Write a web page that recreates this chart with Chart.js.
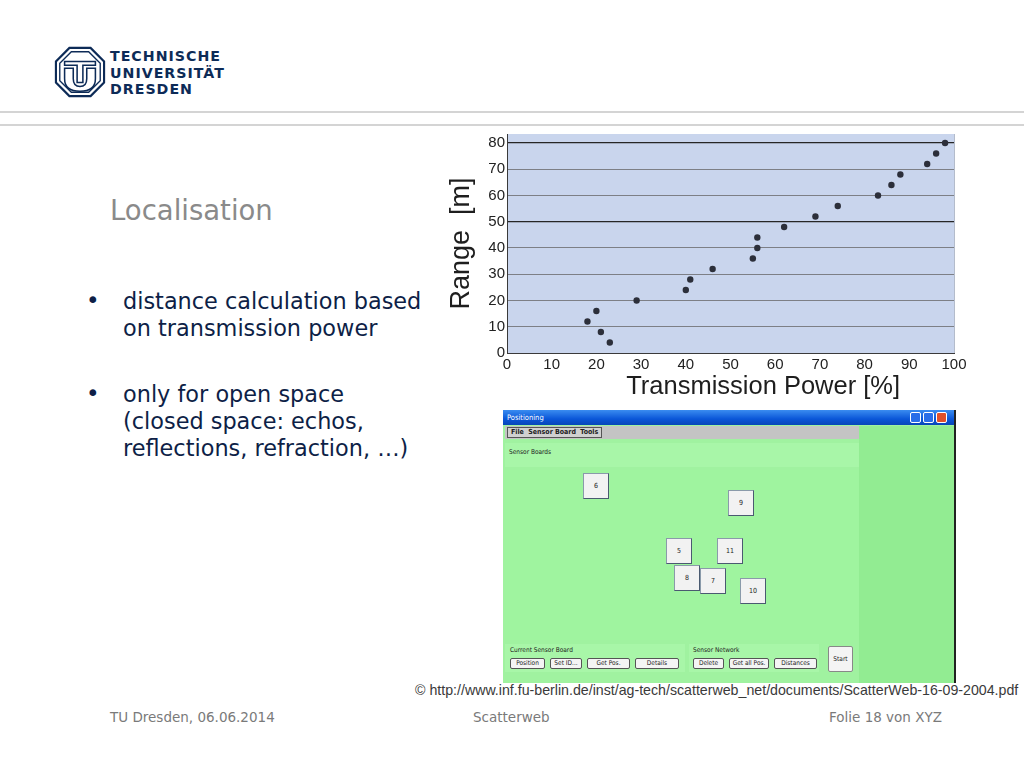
<!DOCTYPE html>
<html>
<head>
<meta charset="utf-8">
<script src="https://cdn.jsdelivr.net/npm/chart.js@4.4.1/dist/chart.umd.min.js"></script>
<style>
  html, body { margin:0; padding:0; background:#fff; }
  body { width:1024px; height:768px; position:relative; overflow:hidden; font-family:"DejaVu Sans", Verdana, sans-serif; }
  .abs { position:absolute; }
  .hline { position:absolute; left:0; width:1024px; height:2px; background:#d4d4d4; }
  .logo-line { position:absolute; left:110px; font-family:"DejaVu Sans",sans-serif; font-weight:bold; font-size:14.2px; letter-spacing:1px; line-height:16px; height:16px; color:#0d2b57; white-space:nowrap; }
  .title { position:absolute; left:110px; top:194px; font-size:27.5px; color:#8a8a8a; }
  .bullet { position:absolute; left:86px; font-size:23px; color:#0e1f47; }
  .btext { position:absolute; left:123px; font-size:22.4px; line-height:27.2px; color:#0e1f47; white-space:nowrap; }
  .footer { position:absolute; top:709px; font-size:13.5px; color:#7a7a7a; }
  .copy { position:absolute; left:415px; top:682px; font-family:"Liberation Sans", Arial, sans-serif; font-size:14.2px; color:#3a3a3a; white-space:nowrap; }
  #chartBox { position:absolute; left:440px; top:123px; width:540px; height:279px; }
  /* GUI screenshot */
  .win { position:absolute; left:503px; top:410px; width:453px; height:273px; background:#a0f2a0; border-right:2px solid #222; box-sizing:border-box; font-family:"DejaVu Sans Condensed","DejaVu Sans",sans-serif; font-size:7px; color:#222; overflow:hidden; }
  .titlebar { position:absolute; left:0; top:0; width:100%; height:15px; background:linear-gradient(#3a8cf0,#0a56d8 60%,#0846b8); color:#fff; font-size:7.5px; line-height:15px; padding-left:4px; box-sizing:border-box; }
  .wbtn { position:absolute; top:2px; width:11px; height:11px; border:1px solid #fff; box-sizing:border-box; border-radius:2px; background:#2a6ee8; }
  .menubar { position:absolute; left:2px; top:16px; width:355px; height:13px; background:#c4c4c4; }
  .menu { position:absolute; left:2px; top:1px; height:11px; padding:0 3px; border:1px solid #555; box-sizing:border-box; background:#d0d0d0; font-size:7px; line-height:9px; font-weight:bold; }
  .panel { position:absolute; background:#a8f6a8; }
  .rightp { position:absolute; left:356px; top:16px; width:95px; height:257px; background:#92ec92; }
  .board { position:absolute; width:26px; height:26px; background:#f2f2f2; border:1px solid #8a9aaa; border-right-color:#4a5a70; border-bottom-color:#4a5a70; box-sizing:border-box; font-size:7px; text-align:center; line-height:24px; }
  .gbtn { position:absolute; top:248px; height:11px; background:#f4f4f4; border:1px solid #555; box-sizing:border-box; border-radius:2px; font-size:6.5px; line-height:9px; text-align:center; }
  .glabel { position:absolute; font-size:6.5px; }
</style>
</head>
<body>

<!-- Logo -->
<svg class="abs" style="left:54px;top:46px" width="52" height="52" viewBox="0 0 54 54">
  <polygon points="16,2 38,2 52,16 52,38 38,52 16,52 2,38 2,16" fill="none" stroke="#0d2b57" stroke-width="2.2"/>
  <polygon points="18,6 36,6 48,18 48,36 36,48 18,48 6,36 6,18" fill="none" stroke="#0d2b57" stroke-width="1.4"/>
  <path d="M11,16 H43 V20 H30 V38 H24 V20 H11 Z" fill="none" stroke="#0d2b57" stroke-width="1.6"/>
  <path d="M11,23 H20 V34 Q20,42 27,42 Q34,42 34,34 V23 H43 V34 Q43,47 27,47 Q11,47 11,34 Z" fill="none" stroke="#0d2b57" stroke-width="1.6"/>
</svg>
<div class="logo-line" style="top:48px">TECHNISCHE</div>
<div class="logo-line" style="top:64.5px">UNIVERSITÄT</div>
<div class="logo-line" style="top:81px">DRESDEN</div>

<div class="hline" style="top:111px"></div>
<div class="hline" style="top:124px"></div>

<div class="title">Localisation</div>

<div class="bullet" style="top:287px">•</div>
<div class="btext" style="top:288px">distance calculation based<br>on transmission power</div>
<div class="bullet" style="top:380px">•</div>
<div class="btext" style="top:381px">only for open space<br>(closed space: echos,<br>reflections, refraction, …)</div>

<div id="chartBox"><canvas id="c"></canvas></div>

<!-- GUI screenshot -->
<div class="win">
  <div class="titlebar">Positioning</div>
  <div class="wbtn" style="left:407px"></div>
  <div class="wbtn" style="left:420px"></div>
  <div class="wbtn" style="left:433px;background:#e0502a"></div>
  <div class="menubar"><div class="menu">File&nbsp; Sensor Board&nbsp; Tools</div></div>
  <div class="rightp"></div>
  <div class="panel" style="left:2px;top:33px;width:354px;height:24px"><div class="glabel" style="left:4px;top:5px">Sensor Boards</div></div>
  <div class="panel" style="left:2px;top:60px;width:354px;height:170px;background:#9ff49f"></div>
  <div class="board" style="left:80px;top:63px">6</div>
  <div class="board" style="left:225px;top:80px">9</div>
  <div class="board" style="left:163px;top:128px">5</div>
  <div class="board" style="left:214px;top:128px">11</div>
  <div class="board" style="left:171px;top:155px">8</div>
  <div class="board" style="left:197px;top:158px">7</div>
  <div class="board" style="left:237px;top:168px">10</div>
  <div class="panel" style="left:2px;top:234px;width:180px;height:28px"></div>
  <div class="panel" style="left:186px;top:234px;width:130px;height:28px"></div>
  <div class="glabel" style="left:7px;top:236px">Current Sensor Board</div>
  <div class="glabel" style="left:190px;top:236px">Sensor Network</div>
  <div class="gbtn" style="left:7px;width:35px">Position</div>
  <div class="gbtn" style="left:47px;width:32px">Set ID...</div>
  <div class="gbtn" style="left:84px;width:43px">Get Pos.</div>
  <div class="gbtn" style="left:132px;width:44px">Details</div>
  <div class="gbtn" style="left:190px;width:31px">Delete</div>
  <div class="gbtn" style="left:226px;width:40px">Get all Pos.</div>
  <div class="gbtn" style="left:271px;width:43px">Distances</div>
  <div class="gbtn" style="left:325px;top:236px;width:25px;height:26px;line-height:24px;border-color:#888">Start</div>
</div>

<div class="copy">© http://www.inf.fu-berlin.de/inst/ag-tech/scatterweb_net/documents/ScatterWeb-16-09-2004.pdf</div>

<div class="footer" style="left:110px">TU Dresden, 06.06.2014</div>
<div class="footer" style="left:473px">Scatterweb</div>
<div class="footer" style="left:829px">Folie 18 von XYZ</div>

<script>
// ---- Chart data ----
const transmissionPower = [18, 20, 21, 23, 29, 40, 41, 46, 55, 56, 56, 62, 69, 74, 83, 86, 88, 94, 96, 98];
const rangeMeters       = [12, 16,  8,  4, 20, 24, 28, 32, 36, 40, 44, 48, 52, 56, 60, 64, 68, 72, 76, 80];
const xTickValues = [0, 10, 20, 30, 40, 50, 60, 70, 80, 90, 100];
const yTickValues = [0, 10, 20, 30, 40, 50, 60, 70, 80];
const darkGridValues = [50, 80];
const xAxisTitle = 'Transmission Power [%]';
const yAxisTitle = 'Range  [m]';

const plotBg = {
  id: 'plotBg',
  beforeDraw(chart) {
    const {ctx, chartArea: a} = chart;
    ctx.save();
    ctx.fillStyle = '#c9d5ed';
    ctx.fillRect(a.left, a.top, a.right - a.left, a.bottom - a.top);
    ctx.strokeStyle = '#b4bccb';
    ctx.lineWidth = 1;
    ctx.beginPath();
    ctx.moveTo(a.right + 0.5, a.top);
    ctx.lineTo(a.right + 0.5, a.bottom);
    ctx.stroke();
    ctx.restore();
  }
};

const xTitlePlugin = {
  id: 'xTitle',
  afterDraw(chart) {
    const {ctx, chartArea: a} = chart;
    ctx.save();
    ctx.font = '25.5px "Liberation Sans", Arial, sans-serif';
    ctx.fillStyle = '#1e1e1e';
    ctx.textAlign = 'center';
    ctx.textBaseline = 'alphabetic';
    ctx.fillText(xAxisTitle, a.left + (a.right - a.left) * 0.573, a.bottom + 41);
    ctx.restore();
  }
};

new Chart(document.getElementById('c'), {
  type: 'scatter',
  data: {
    datasets: [{
      data: transmissionPower.map((x, i) => ({x: x, y: rangeMeters[i]})),
      pointRadius: 3.2,
      pointHoverRadius: 3.2,
      pointBackgroundColor: '#2c2f3a',
      pointBorderColor: '#2c2f3a',
      pointBorderWidth: 0
    }]
  },
  options: {
    responsive: true,
    maintainAspectRatio: false,
    animation: false,
    events: [],
    layout: { padding: { top: 8, right: 26, left: 0, bottom: 0 } },
    plugins: { legend: { display: false }, tooltip: { enabled: false } },
    scales: {
      x: {
        type: 'linear',
        min: 0, max: 100,
        afterBuildTicks: s => { s.ticks = xTickValues.map(v => ({value: v})); },
        afterFit: s => { s.height = 49; },
        grid: { display: false, drawTicks: false },
        border: { display: true, color: '#3a3a3a', width: 1 },
        ticks: {
          padding: 3,
          color: '#222',
          font: { family: '"Liberation Sans", Arial, sans-serif', size: 15 },
          maxRotation: 0, autoSkip: false
        },
        title: { display: false }
      },
      y: {
        type: 'linear',
        min: 0, max: 83.4,
        afterBuildTicks: s => { s.ticks = yTickValues.map(v => ({value: v})); },
        afterFit: s => { s.width = 67; },
        grid: {
          drawTicks: false,
          color: c => (c.tick && darkGridValues.includes(c.tick.value)) ? '#262626' : '#7d7f86',
          lineWidth: c => (c.tick && darkGridValues.includes(c.tick.value)) ? 1.3 : 1
        },
        border: { display: true, color: '#3a3a3a', width: 1 },
        ticks: {
          padding: 2,
          color: '#222',
          font: { family: '"Liberation Sans", Arial, sans-serif', size: 15 }
        },
        title: {
          display: true,
          text: yAxisTitle,
          color: '#1e1e1e',
          font: { family: '"Liberation Sans", Arial, sans-serif', size: 27 },
          padding: { top: 5, bottom: 0 }
        }
      }
    }
  },
  plugins: [plotBg, xTitlePlugin]
});
</script>
</body>
</html>
